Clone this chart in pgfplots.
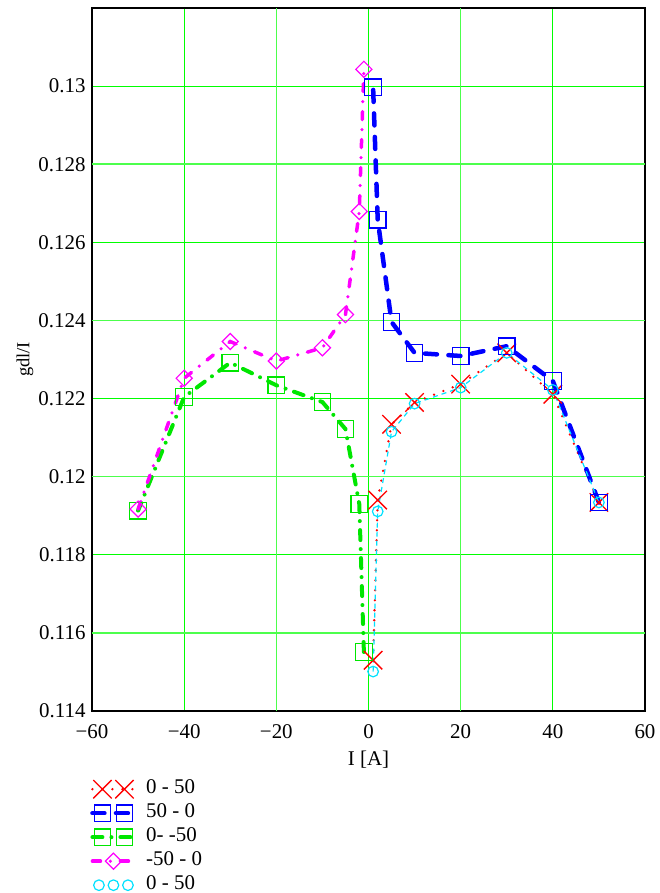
\documentclass[border=0pt]{standalone}
\usepackage{fontspec}
\setmainfont{Liberation Serif}
\usepackage{pgfplots}
\pgfplotsset{compat=1.18}

\definecolor{gridgreen}{RGB}{0,255,0}
\definecolor{sRed}{RGB}{255,0,0}
\definecolor{sBlue}{RGB}{0,0,255}
\definecolor{sGreen}{RGB}{0,230,0}
\definecolor{sMagenta}{RGB}{255,0,255}
\definecolor{sCyan}{RGB}{0,225,255}

% legend samples: a line with two marks, one mark, or three marks
\pgfplotsset{
  twomarks/.style={legend image code/.code={
      \draw[##1,mark=none] (0bp,0bp) -- (42bp,0bp);
      \draw[##1,only marks] plot coordinates {(10bp,0bp) (32bp,0bp)};}},
  onemark/.style={legend image code/.code={
      \draw[##1,mark=none] (0bp,0bp) -- (42bp,0bp);
      \draw[##1,only marks] plot coordinates {(21bp,0bp)};}},
  threemarks/.style={legend image code/.code={
      \draw[##1,only marks] plot coordinates {(6.5bp,0bp) (21bp,0bp) (35.5bp,0bp)};}},
}

\begin{document}
\begin{tikzpicture}
\useasboundingbox (-92bp,-182bp) rectangle (568bp,711bp);
\begin{axis}[
  scale only axis,
  width=553bp, height=703bp,
  xmin=-60, xmax=60, ymin=0.114, ymax=0.132,
  xtick={-60,-40,-20,0,20,40,60},
  xticklabels={−60,−40,−20,0,20,40,60},
  ytick={0.114,0.116,0.118,0.12,0.122,0.124,0.126,0.128,0.13},
  yticklabels={0.114,0.116,0.118,0.12,0.122,0.124,0.126,0.128,0.13},
  major tick length=0pt,
  grid=major,
  major grid style={gridgreen, line width=0.8bp},
  extra x ticks={-20,20},
  extra x tick labels={},
  extra y ticks={0.116,0.12,0.124,0.128},
  extra y tick labels={},
  extra tick style={major grid style={gridgreen!70, line width=1.6bp}},
  axis line style={line width=1.2bp, black},
  tick label style={font=\fontsize{21}{23}\selectfont},
  xticklabel style={yshift=-10bp},
  yticklabel style={xshift=-3bp},
  xlabel={I [A]},
  ylabel={gdl/I},
  xlabel style={font=\fontsize{21}{23}\selectfont, at={(axis description cs:0.5,-0.0697)}, anchor=center},
  ylabel style={font=\fontsize{18.5}{20}\selectfont, at={(axis description cs:-0.121,0.5)}, anchor=center},
  legend style={at={(0,0)}, anchor=north west, xshift=-2bp, yshift=-68bp,
    draw=none, fill=none, inner sep=0pt, row sep=4bp, column sep=8bp,
    font=\fontsize{21}{23}\selectfont,
    nodes={inner sep=1.5bp, text height=13bp, text depth=4bp}},
  legend cell align=left,
]

% 0 - 50 (first rise)
\addplot[sRed, line width=2.6bp, line cap=round, dash pattern=on 0bp off 10bp,
  mark=x, mark size=13bp, mark options={solid, line width=1.3bp, line cap=butt}, twomarks]
  coordinates {(1,0.1153) (2,0.1194) (5,0.12134) (10,0.1219) (20,0.12237)
               (30,0.12317) (40,0.12211) (50,0.11934)};
\addlegendentry{0 - 50}

% 50 - 0
\addplot[sBlue, line width=4.5bp, line cap=round, dash pattern=on 12bp off 11.5bp,
  mark=square, mark size=8.3bp, mark options={solid, line width=1.2bp, line cap=butt}, twomarks]
  coordinates {(50,0.11934) (40,0.12245) (30,0.12334) (20,0.12309) (10,0.12317)
               (5,0.12396) (2,0.12658) (1,0.12997)};
\addlegendentry{50 - 0}

% 0 - -50
\addplot[sGreen, line width=4bp, line cap=round, dash pattern=on 10bp off 9bp on 0bp off 9bp,
  mark=square, mark size=8.3bp, mark options={solid, line width=1.2bp, line cap=butt}, twomarks]
  coordinates {(-1,0.11551) (-2,0.1193) (-5,0.12122) (-10,0.12191) (-20,0.12234)
               (-30,0.12292) (-40,0.12204) (-50,0.11913)};
\addlegendentry{0- -50}

% -50 - 0
\addplot[sMagenta, line width=3.5bp, line cap=round, dash pattern=on 8bp off 10bp on 0bp off 10bp,
  mark=square, mark size=5.7bp, mark options={solid, rotate=45, line width=1.2bp, line cap=butt}, onemark]
  coordinates {(-50,0.11917) (-40,0.12252) (-30,0.12346) (-20,0.12296) (-10,0.1233)
               (-5,0.12415) (-2,0.12679) (-1,0.13043)};
\addlegendentry{-50 - 0}

% 0 - 50 (second rise)
\addplot[sCyan, line width=1.2bp, dash pattern=on 5bp off 4bp,
  mark=o, mark size=5.3bp, mark options={solid, line width=1.2bp}, threemarks]
  coordinates {(1,0.11501) (2,0.11911) (5,0.12115) (10,0.12187) (20,0.12228)
               (30,0.12317) (40,0.12222) (50,0.11934)};
\addlegendentry{0 - 50}

\end{axis}
\end{tikzpicture}
\end{document}
